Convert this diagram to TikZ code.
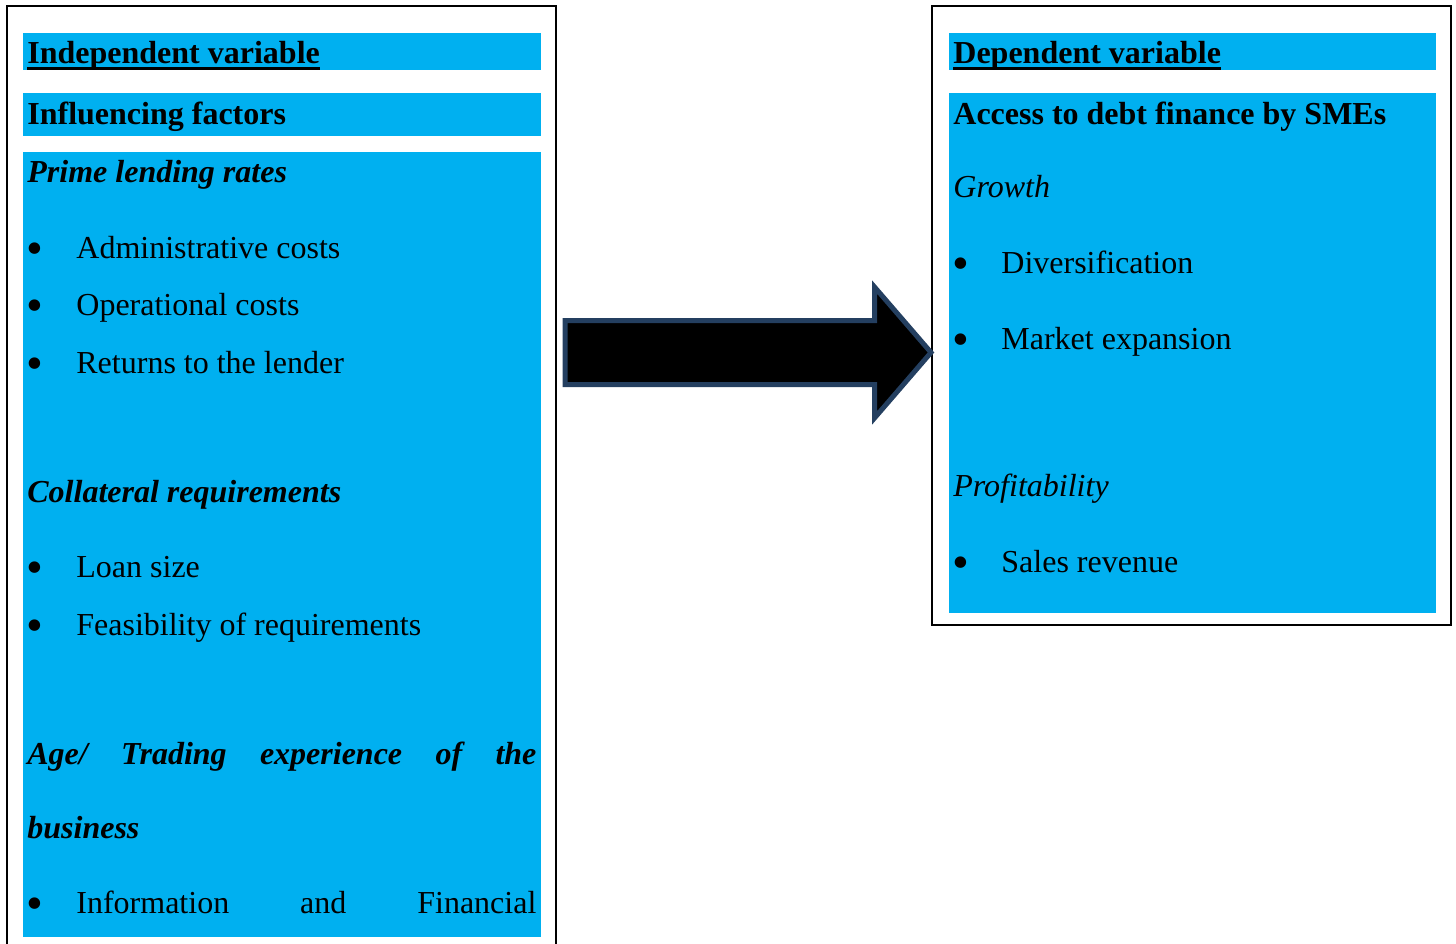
\documentclass[tikz,border=0pt]{standalone}
\usepackage{fontspec}
\setmainfont{Liberation Serif}
\definecolor{skyc}{HTML}{00B0F0}
\definecolor{arrowedge}{HTML}{243F60}
\tikzset{
  bar/.style={fill=skyc, draw=none},
  frame/.style={draw=black, line width=1pt},
  txt/.style={anchor=base west, inner sep=0pt, font=\fontsize{16}{19}\selectfont},
  head/.style={txt, font=\fontsize{16}{19}\selectfont\bfseries},
  sub/.style={txt, font=\fontsize{16}{19}\selectfont\bfseries\itshape},
  itl/.style={txt, font=\fontsize{16}{19}\selectfont\itshape},
  bul/.style={anchor=base, inner sep=0pt, font=\fontsize{24}{28}\selectfont},
  uline/.style={line width=1.5pt},
  bigarrow/.style={fill=black, draw=arrowedge, line width=2.5pt, line join=miter}
}
\begin{document}
\begin{tikzpicture}[x=0.5pt, y=-0.5pt]
\useasboundingbox (0,0) rectangle (1456,943);
\clip (0,0) rectangle (1456,943);
% frames
\draw[frame] (7,960) -- (7,6) -- (556,6) -- (556,960);
\draw[frame] (932,6) rectangle (1451,625);
% left bars
\fill[bar] (23,33) rectangle (541,70);
\fill[bar] (23,93) rectangle (541,136);
\fill[bar] (23,152) rectangle (541,937);
% right bars
\fill[bar] (949,33) rectangle (1436,70);
\fill[bar] (949,93) rectangle (1436,613);
% arrow
\draw[bigarrow] (565,320.5) -- (874.5,320.5) -- (874.5,287) -- (931,352.5) -- (874.5,418) -- (874.5,384.5) -- (565,384.5) -- cycle;
% left texts
\node[head] (indep) at (27,63) {Independent variable};
\draw[uline] ([yshift=-2.5pt]indep.base west) -- ([yshift=-2.5pt]indep.base east);
\node[head] (infl) at (27,124) {Influencing factors};
\node[sub] (prime) at (27,182) {Prime lending rates};
\node[bul] (b1) at (35,264) {\textbullet};
\node[txt] (admin) at (76,258) {Administrative costs};
\node[bul] (b2) at (35,321) {\textbullet};
\node[txt] (oper) at (76,315) {Operational costs};
\node[bul] (b3) at (35,379) {\textbullet};
\node[txt] (ret) at (76,373) {Returns to the lender};
\node[sub] (coll) at (27,502) {Collateral requirements};
\node[bul] (b4) at (35,583) {\textbullet};
\node[txt] (loan) at (76,577) {Loan size};
\node[bul] (b5) at (35,641) {\textbullet};
\node[txt] (feas) at (76,635) {Feasibility of requirements};
\node[sub] (age) at (27,764) {\makebox[254.5pt][s]{Age/ Trading experience of the}};
\node[sub] (bus) at (27,838) {business};
\node[bul] (b6) at (35,919) {\textbullet};
\node[txt] (info) at (76,913) {\makebox[230pt][s]{Information and Financial}};
% right texts
\node[head] (dep) at (953,63) {Dependent variable};
\draw[uline] ([yshift=-2.5pt]dep.base west) -- ([yshift=-2.5pt]dep.base east);
\node[head] (access) at (953,124) {Access to debt finance by SMEs};
\node[itl] (growth) at (953,197) {Growth};
\node[bul] (b7) at (961,279) {\textbullet};
\node[txt] (div) at (1001,273) {Diversification};
\node[bul] (b8) at (961,355) {\textbullet};
\node[txt] (mkt) at (1001,349) {Market expansion};
\node[itl] (prof) at (953,496) {Profitability};
\node[bul] (b9) at (961,578) {\textbullet};
\node[txt] (sales) at (1001,572) {Sales revenue};
\end{tikzpicture}
\end{document}
